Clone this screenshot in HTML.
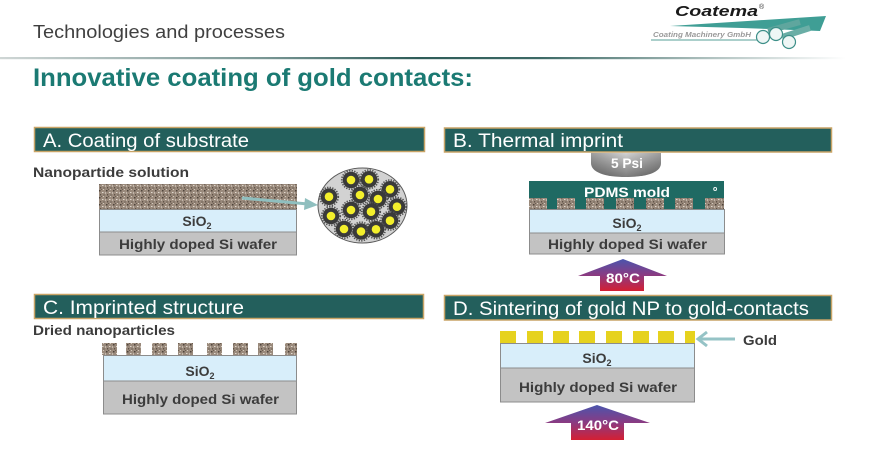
<!DOCTYPE html>
<html><head><meta charset="utf-8"><style>
html,body{margin:0;padding:0;background:#fff;}
svg{display:block;}
text{font-family:"Liberation Sans",Arial,sans-serif;}
</style></head><body>
<svg width="872" height="456" viewBox="0 0 872 456" xmlns="http://www.w3.org/2000/svg">
<defs>
<pattern id="np" width="7" height="7" patternUnits="userSpaceOnUse">
<rect width="7" height="7" fill="#9a8a7c"/>
<rect x="1" y="1" width="1.5" height="1.5" fill="#4e443b"/>
<rect x="4" y="3" width="1.5" height="1" fill="#e0d8ce"/>
<rect x="2" y="5" width="1.2" height="1.5" fill="#5f5247"/>
<rect x="5" y="0" width="1" height="1" fill="#d4cabd"/>
<rect x="0" y="3.5" width="1" height="1" fill="#e8e2da"/>
<rect x="5.5" y="5.5" width="1" height="1" fill="#4a4037"/>
<rect x="3" y="0" width="1" height="1" fill="#6b5d50"/>
</pattern>
<linearGradient id="sep" x1="0" y1="0" x2="1" y2="0">
<stop offset="0" stop-color="#cfd6d5"/>
<stop offset="0.3" stop-color="#7a9795"/>
<stop offset="0.48" stop-color="#2e5c58"/>
<stop offset="0.62" stop-color="#3d6a66"/>
<stop offset="0.82" stop-color="#b3c4c2"/>
<stop offset="0.97" stop-color="#ffffff"/>
</linearGradient>
<linearGradient id="heat" x1="0" y1="0" x2="0" y2="1">
<stop offset="0" stop-color="#4a55ad"/>
<stop offset="0.5" stop-color="#8a3b82"/>
<stop offset="1" stop-color="#d41f33"/>
</linearGradient>
<linearGradient id="psi" x1="0" y1="0" x2="0" y2="1">
<stop offset="0" stop-color="#d2d2d2"/>
<stop offset="0.5" stop-color="#a6a6a6"/>
<stop offset="1" stop-color="#7c7c7c"/>
</linearGradient>
<linearGradient id="psih" x1="0" y1="0" x2="1" y2="0">
<stop offset="0" stop-color="#000" stop-opacity="0.25"/>
<stop offset="0.5" stop-color="#000" stop-opacity="0"/>
<stop offset="1" stop-color="#000" stop-opacity="0.25"/>
</linearGradient>
<g id="part">
<circle r="8.3" fill="#3a3a3a"/>
<circle r="9.3" fill="none" stroke="#505050" stroke-width="1.6" stroke-dasharray="1.3 1.3"/>
<circle r="4.3" fill="#f3ef2c"/>
</g>
</defs>

<!-- Header -->
<text x="33" y="38" font-size="18" fill="#404040" textLength="252" lengthAdjust="spacingAndGlyphs">Technologies and processes</text>
<rect x="0" y="57" width="872" height="2.2" fill="url(#sep)"/>
<text x="33" y="86" font-size="25" font-weight="bold" fill="#1b7a73" textLength="440" lengthAdjust="spacingAndGlyphs">Innovative coating of gold contacts:</text>

<!-- Logo -->
<polygon points="670,26 826,16 820,31 742,28" fill="#3f9e95"/>
<text x="675" y="16" font-size="15" font-weight="bold" font-style="italic" fill="#1a1a1a" textLength="83" lengthAdjust="spacingAndGlyphs">Coatema</text>
<text x="759" y="9" font-size="7" fill="#333">®</text>
<text x="653" y="37" font-size="7.5" font-weight="bold" font-style="italic" fill="#9a9a9a" textLength="98" lengthAdjust="spacingAndGlyphs">Coating Machinery GmbH</text>
<line x1="651" y1="40" x2="757" y2="40" stroke="#8fbfba" stroke-width="1.5"/>
<line x1="768" y1="31" x2="800" y2="22" stroke="#5fa69e" stroke-width="6"/>
<line x1="782" y1="37" x2="810" y2="28" stroke="#6aaea6" stroke-width="6"/>
<circle cx="763" cy="37" r="6.5" fill="#eef6f5" stroke="#3d8f88" stroke-width="1.2"/>
<circle cx="776" cy="34" r="6.5" fill="#eef6f5" stroke="#3d8f88" stroke-width="1.2"/>
<circle cx="789" cy="42" r="6.5" fill="#eef6f5" stroke="#3d8f88" stroke-width="1.2"/>

<!-- Panel A -->
<rect x="34.5" y="127.5" width="390" height="24" fill="#235f5c" stroke="#c9a466" stroke-width="1.5"/>
<text x="43" y="147" font-size="19" fill="#fff" textLength="206" lengthAdjust="spacingAndGlyphs">A. Coating of substrate</text>
<text x="33" y="177" font-size="14" font-weight="bold" fill="#3c3c3c" textLength="156" lengthAdjust="spacingAndGlyphs">Nanopartide solution</text>
<rect x="99" y="184" width="198" height="25" fill="url(#np)"/>
<rect x="99.5" y="209.5" width="197" height="22.5" fill="#d8eefa" stroke="#8c8c8c" stroke-width="1"/>
<rect x="99.5" y="232" width="197" height="23" fill="#c3c3c3" stroke="#8c8c8c" stroke-width="1"/>
<text x="197" y="226" font-size="14" font-weight="bold" fill="#3c3c3c" text-anchor="middle">SiO<tspan font-size="9" dy="3">2</tspan></text>
<text x="119" y="249" font-size="14" font-weight="bold" fill="#3c3c3c" textLength="158" lengthAdjust="spacingAndGlyphs">Highly doped Si wafer</text>
<line x1="242" y1="198" x2="308" y2="204" stroke="#8fbfbf" stroke-width="3"/>
<polygon points="318,205 305,198 304,210" fill="#8fbfbf"/>
<ellipse cx="362.5" cy="205.5" rx="44.5" ry="37.5" fill="#d2d2d2" stroke="#5a5a5a" stroke-width="1"/>
<use href="#part" x="351" y="180"/>
<use href="#part" x="369" y="179.3"/>
<use href="#part" x="390" y="189.3"/>
<use href="#part" x="360" y="195"/>
<use href="#part" x="378" y="199"/>
<use href="#part" x="329" y="196.7"/>
<use href="#part" x="397" y="206.7"/>
<use href="#part" x="351" y="210"/>
<use href="#part" x="371" y="211.7"/>
<use href="#part" x="331" y="216"/>
<use href="#part" x="390" y="220.7"/>
<use href="#part" x="344" y="229"/>
<use href="#part" x="361" y="231.5"/>
<use href="#part" x="376" y="229.3"/>

<!-- Panel B -->
<rect x="444.5" y="128" width="387" height="24" fill="#235f5c" stroke="#c9a466" stroke-width="1.5"/>
<text x="453" y="147" font-size="19" fill="#fff" textLength="170" lengthAdjust="spacingAndGlyphs">B. Thermal imprint</text>
<path d="M591,153 L661,153 L661,163 C661,172 648,177 626,177 C604,177 591,172 591,163 Z" fill="url(#psi)"/>
<path d="M591,153 L661,153 L661,163 C661,172 648,177 626,177 C604,177 591,172 591,163 Z" fill="url(#psih)"/>
<text x="611" y="168" font-size="14" font-weight="bold" fill="#fff" textLength="32" lengthAdjust="spacingAndGlyphs">5 Psi</text>
<rect x="529" y="181" width="195" height="28" fill="#1f6a63"/>
<rect x="529" y="198" width="18" height="11" fill="url(#np)"/>
<rect x="557" y="198" width="18" height="11" fill="url(#np)"/>
<rect x="586" y="198" width="18" height="11" fill="url(#np)"/>
<rect x="616" y="198" width="18" height="11" fill="url(#np)"/>
<rect x="646" y="198" width="18" height="11" fill="url(#np)"/>
<rect x="675" y="198" width="18" height="11" fill="url(#np)"/>
<rect x="705" y="198" width="19" height="11" fill="url(#np)"/>
<text x="584" y="197" font-size="14" font-weight="bold" fill="#fff" textLength="86" lengthAdjust="spacingAndGlyphs">PDMS mold</text>
<text x="713" y="191" font-size="7" font-weight="bold" fill="#fff">o</text>
<rect x="529.5" y="209.5" width="195" height="23.5" fill="#d8eefa" stroke="#8c8c8c" stroke-width="1"/>
<rect x="529.5" y="233" width="195" height="21" fill="#c3c3c3" stroke="#8c8c8c" stroke-width="1"/>
<text x="627" y="228" font-size="14" font-weight="bold" fill="#3c3c3c" text-anchor="middle">SiO<tspan font-size="9" dy="3">2</tspan></text>
<text x="548" y="249" font-size="14" font-weight="bold" fill="#3c3c3c" textLength="159" lengthAdjust="spacingAndGlyphs">Highly doped Si wafer</text>
<polygon points="623,259 667,276 644,276 644,291 600,291 600,276 578,276" fill="url(#heat)"/>
<text x="606" y="283" font-size="14" font-weight="bold" fill="#fff" textLength="34" lengthAdjust="spacingAndGlyphs">80°C</text>

<!-- Panel C -->
<rect x="34.5" y="294.5" width="389" height="24" fill="#235f5c" stroke="#c9a466" stroke-width="1.5"/>
<text x="43" y="314" font-size="19" fill="#fff" textLength="201" lengthAdjust="spacingAndGlyphs">C. Imprinted structure</text>
<text x="33" y="335" font-size="14" font-weight="bold" fill="#3c3c3c" textLength="142" lengthAdjust="spacingAndGlyphs">Dried nanoparticles</text>
<rect x="102" y="343" width="15" height="12" fill="url(#np)"/>
<rect x="126" y="343" width="15" height="12" fill="url(#np)"/>
<rect x="152" y="343" width="15" height="12" fill="url(#np)"/>
<rect x="178" y="343" width="15" height="12" fill="url(#np)"/>
<rect x="207" y="343" width="15" height="12" fill="url(#np)"/>
<rect x="233" y="343" width="15" height="12" fill="url(#np)"/>
<rect x="258" y="343" width="15" height="12" fill="url(#np)"/>
<rect x="285" y="343" width="12" height="12" fill="url(#np)"/>
<rect x="103.5" y="355.5" width="193" height="25.5" fill="#d8eefa" stroke="#8c8c8c" stroke-width="1"/>
<rect x="103.5" y="381" width="193" height="33" fill="#c3c3c3" stroke="#8c8c8c" stroke-width="1"/>
<text x="200" y="376" font-size="14" font-weight="bold" fill="#3c3c3c" text-anchor="middle">SiO<tspan font-size="9" dy="3">2</tspan></text>
<text x="122" y="404" font-size="14" font-weight="bold" fill="#3c3c3c" textLength="157" lengthAdjust="spacingAndGlyphs">Highly doped Si wafer</text>

<!-- Panel D -->
<rect x="444.5" y="295.5" width="387" height="24.5" fill="#235f5c" stroke="#c9a466" stroke-width="1.5"/>
<text x="453" y="315" font-size="19" fill="#fff" textLength="356" lengthAdjust="spacingAndGlyphs">D. Sintering of gold NP to gold-contacts</text>
<rect x="500" y="331" width="16" height="12" fill="#e6d21e"/>
<rect x="527" y="331" width="16" height="12" fill="#e6d21e"/>
<rect x="553" y="331" width="16" height="12" fill="#e6d21e"/>
<rect x="579" y="331" width="16" height="12" fill="#e6d21e"/>
<rect x="606" y="331" width="16" height="12" fill="#e6d21e"/>
<rect x="633" y="331" width="16" height="12" fill="#e6d21e"/>
<rect x="658" y="331" width="16" height="12" fill="#e6d21e"/>
<rect x="685" y="331" width="10" height="12" fill="#e6d21e"/>
<rect x="500.5" y="343.5" width="194" height="24.5" fill="#d8eefa" stroke="#8c8c8c" stroke-width="1"/>
<rect x="500.5" y="368" width="194" height="34" fill="#c3c3c3" stroke="#8c8c8c" stroke-width="1"/>
<text x="597" y="363" font-size="14" font-weight="bold" fill="#3c3c3c" text-anchor="middle">SiO<tspan font-size="9" dy="3">2</tspan></text>
<text x="519" y="392" font-size="14" font-weight="bold" fill="#3c3c3c" textLength="158" lengthAdjust="spacingAndGlyphs">Highly doped Si wafer</text>
<line x1="698" y1="339" x2="735" y2="339" stroke="#95c3c6" stroke-width="3"/>
<polyline points="707,332 698,339 707,346" fill="none" stroke="#95c3c6" stroke-width="3"/>
<text x="743" y="345" font-size="14" font-weight="bold" fill="#3c3c3c" textLength="34" lengthAdjust="spacingAndGlyphs">Gold</text>
<polygon points="597,405 650,423 624,423 624,440 571,440 571,423 545,423" fill="url(#heat)"/>
<text x="577" y="430" font-size="14" font-weight="bold" fill="#fff" textLength="42" lengthAdjust="spacingAndGlyphs">140°C</text>
</svg>
</body></html>
